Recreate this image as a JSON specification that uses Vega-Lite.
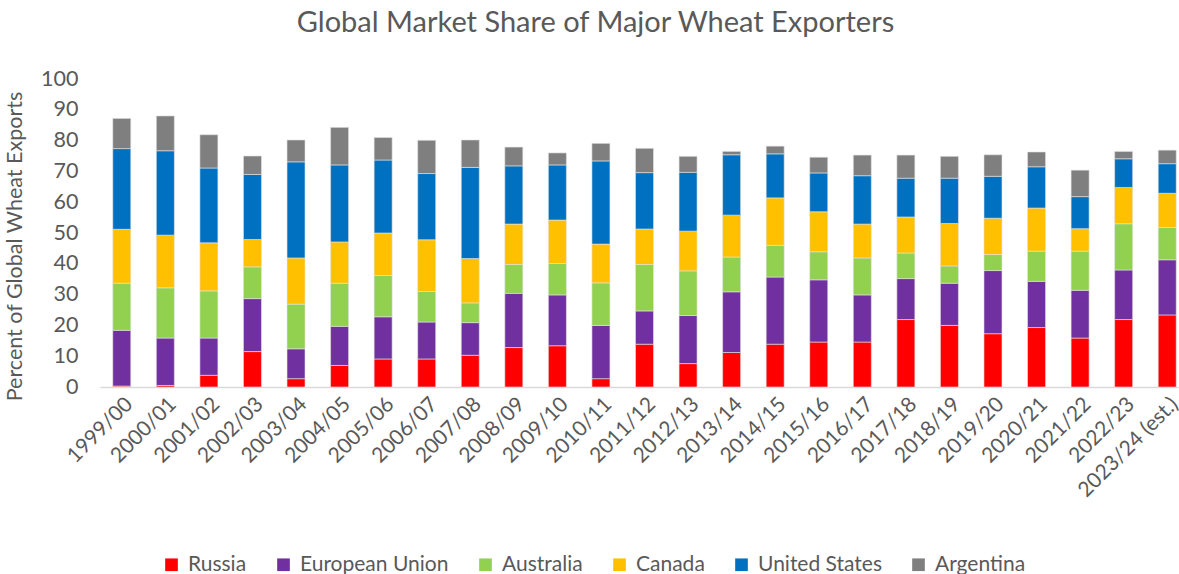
{
  "$schema": "https://vega.github.io/schema/vega-lite/v6.json",
  "width": 1089,
  "height": 308,
  "autosize": {"type": "none"},
  "padding": {"left": 100, "top": 79, "right": 0, "bottom": 187},
  "background": "white",
  "title": {"text": "Global Market Share of Major Wheat Exporters", "fontSize": 29, "font": "Lato", "fontWeight": "normal", "color": "#595959", "anchor": "middle", "frame": "group", "dx": -49, "offset": 30},
  "config": {"view": {"stroke": null}, "font": "Lato"},
  "datasets": {
    "w": [
      {"year": "1999/00", "Russia": 0.3, "European Union": 18.1, "Australia": 15.3, "Canada": 17.5, "United States": 26.2, "Argentina": 9.8},
      {"year": "2000/01", "Russia": 0.5, "European Union": 15.4, "Australia": 16.3, "Canada": 17.1, "United States": 27.4, "Argentina": 11.3},
      {"year": "2001/02", "Russia": 3.8, "European Union": 12.1, "Australia": 15.3, "Canada": 15.6, "United States": 24.3, "Argentina": 10.8},
      {"year": "2002/03", "Russia": 11.5, "European Union": 17.2, "Australia": 10.3, "Canada": 8.9, "United States": 21.1, "Argentina": 6.0},
      {"year": "2003/04", "Russia": 2.7, "European Union": 9.7, "Australia": 14.5, "Canada": 15.0, "United States": 31.2, "Argentina": 7.1},
      {"year": "2004/05", "Russia": 7.0, "European Union": 12.7, "Australia": 14.0, "Canada": 13.4, "United States": 25.0, "Argentina": 12.2},
      {"year": "2005/06", "Russia": 9.1, "European Union": 13.7, "Australia": 13.4, "Canada": 13.8, "United States": 23.7, "Argentina": 7.3},
      {"year": "2006/07", "Russia": 9.1, "European Union": 12.0, "Australia": 9.9, "Canada": 16.8, "United States": 21.5, "Argentina": 10.8},
      {"year": "2007/08", "Russia": 10.3, "European Union": 10.6, "Australia": 6.4, "Canada": 14.4, "United States": 29.6, "Argentina": 8.9},
      {"year": "2008/09", "Russia": 12.8, "European Union": 17.6, "Australia": 9.4, "Canada": 13.1, "United States": 18.9, "Argentina": 6.1},
      {"year": "2009/10", "Russia": 13.4, "European Union": 16.5, "Australia": 10.2, "Canada": 14.1, "United States": 17.9, "Argentina": 3.9},
      {"year": "2010/11", "Russia": 2.7, "European Union": 17.3, "Australia": 13.8, "Canada": 12.6, "United States": 27.0, "Argentina": 5.7},
      {"year": "2011/12", "Russia": 13.9, "European Union": 10.8, "Australia": 15.1, "Canada": 11.5, "United States": 18.3, "Argentina": 7.9},
      {"year": "2012/13", "Russia": 7.6, "European Union": 15.6, "Australia": 14.5, "Canada": 12.9, "United States": 19.1, "Argentina": 5.2},
      {"year": "2013/14", "Russia": 11.2, "European Union": 19.7, "Australia": 11.3, "Canada": 13.6, "United States": 19.6, "Argentina": 1.1},
      {"year": "2014/15", "Russia": 13.9, "European Union": 21.8, "Australia": 10.3, "Canada": 15.4, "United States": 14.3, "Argentina": 2.5},
      {"year": "2015/16", "Russia": 14.6, "European Union": 20.2, "Australia": 9.1, "Canada": 13.0, "United States": 12.6, "Argentina": 5.1},
      {"year": "2016/17", "Russia": 14.6, "European Union": 15.3, "Australia": 12.0, "Canada": 11.0, "United States": 15.7, "Argentina": 6.7},
      {"year": "2017/18", "Russia": 21.9, "European Union": 13.3, "Australia": 8.3, "Canada": 11.7, "United States": 12.6, "Argentina": 7.5},
      {"year": "2018/19", "Russia": 20.0, "European Union": 13.7, "Australia": 5.6, "Canada": 13.8, "United States": 14.7, "Argentina": 7.1},
      {"year": "2019/20", "Russia": 17.3, "European Union": 20.5, "Australia": 5.2, "Canada": 11.8, "United States": 13.6, "Argentina": 7.0},
      {"year": "2020/21", "Russia": 19.3, "European Union": 15.0, "Australia": 9.8, "Canada": 14.0, "United States": 13.4, "Argentina": 4.8},
      {"year": "2021/22", "Russia": 15.9, "European Union": 15.5, "Australia": 12.7, "Canada": 7.3, "United States": 10.4, "Argentina": 8.6},
      {"year": "2022/23", "Russia": 21.9, "European Union": 16.1, "Australia": 15.0, "Canada": 11.8, "United States": 9.3, "Argentina": 2.4},
      {"year": "2023/24 (est.)", "Russia": 23.4, "European Union": 17.9, "Australia": 10.5, "Canada": 11.1, "United States": 9.6, "Argentina": 4.4}
    ],
    "ranks": [
      {"country": "Russia", "o": 1},
      {"country": "European Union", "o": 2},
      {"country": "Australia", "o": 3},
      {"country": "Canada", "o": 4},
      {"country": "United States", "o": 5},
      {"country": "Argentina", "o": 6}
    ]
  },
  "data": {"name": "w"},
  "transform": [
    {"fold": ["Russia", "European Union", "Australia", "Canada", "United States", "Argentina"], "as": ["country", "value"]},
    {"lookup": "country", "from": {"data": {"name": "ranks"}, "key": "country", "fields": ["o"]}}
  ],
  "mark": {"type": "bar", "width": 18, "stroke": "#e3e3e3", "strokeWidth": 0.6},
  "encoding": {
    "x": {"field": "year", "type": "ordinal", "sort": null,
      "axis": {"title": null, "labelAngle": -45, "labelFontSize": 21, "labelColor": "#595959", "ticks": false, "domainColor": "#d9d9d9", "domainWidth": 1.5, "labelOverlap": false, "labelPadding": 6, "labelBound": false}},
    "y": {"field": "value", "type": "quantitative", "stack": "zero", "scale": {"domain": [0, 100]},
      "axis": {"values": [0, 10, 20, 30, 40, 50, 60, 70, 80, 90, 100], "grid": false, "domain": false, "ticks": false, "labelFontSize": 21.5, "labelColor": "#595959", "labelPadding": 22, "title": "Percent of Global Wheat Exports", "titleFontSize": 21.5, "titleFontWeight": "normal", "titleColor": "#595959", "titleX": -74, "titleY": 167, "titleAnchor": "middle"}},
    "color": {"field": "country", "type": "nominal",
      "sort": ["Russia", "European Union", "Australia", "Canada", "United States", "Argentina"],
      "scale": {"domain": ["Russia", "European Union", "Australia", "Canada", "United States", "Argentina"], "range": ["#ff0000", "#7030a0", "#92d050", "#ffc000", "#0070c0", "#7f7f7f"]},
      "legend": {"orient": "none", "direction": "horizontal", "legendX": 61, "legendY": 475, "title": null, "symbolType": "square", "symbolSize": 160, "symbolStrokeWidth": 0, "labelFontSize": 21, "labelColor": "#595959", "columnPadding": 26, "labelOffset": 6}},
    "order": {"field": "o", "type": "quantitative"}
  }
}
